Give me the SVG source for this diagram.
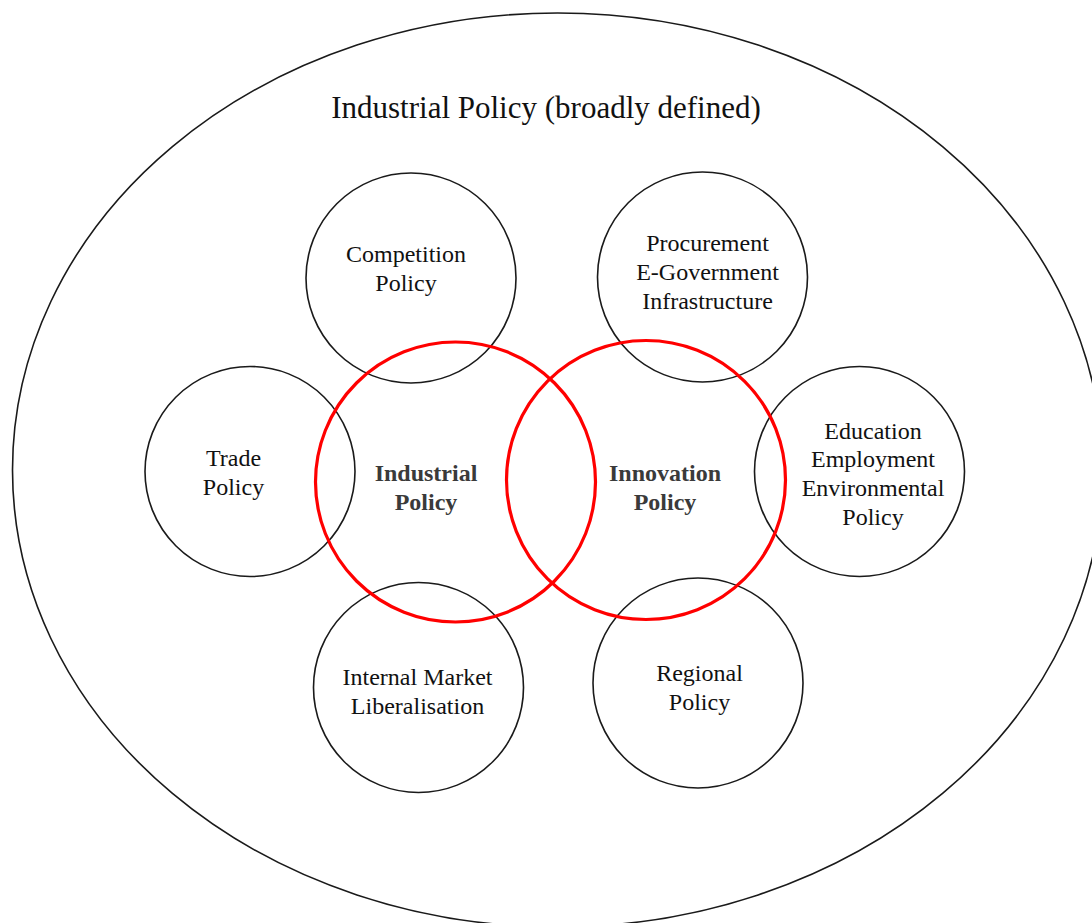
<svg xmlns="http://www.w3.org/2000/svg" width="1092" height="923" viewBox="0 0 1092 923">
<style>
.bg{fill:#ffffff}
.outer{fill:none;stroke:#1a1a1a;stroke-width:1.6}
.node{fill:none;stroke:#1a1a1a;stroke-width:1.6}
.core{fill:none;stroke:#ff0000;stroke-width:3.2}
.lbl{font-family:"Liberation Serif","Times New Roman",serif;font-size:24px;fill:#111111;text-anchor:middle}
.bold{font-family:"Liberation Serif","Times New Roman",serif;font-size:24px;font-weight:bold;fill:#3a3a3a;text-anchor:middle}
.title{font-family:"Liberation Serif","Times New Roman",serif;font-size:31px;fill:#111111;text-anchor:middle}
</style>
<rect class="bg" x="0" y="0" width="1092" height="923"/>
<g id="outer">
<ellipse class="outer" cx="557.5" cy="470" rx="545" ry="457"/>
<text class="title" x="546" y="118">Industrial Policy (broadly defined)</text>
</g>
<g id="connectors"></g>
<g id="competition">
<circle class="node" cx="411" cy="278" r="105"/>
<text class="lbl" x="406" y="262">Competition</text>
<text class="lbl" x="406" y="291">Policy</text>
</g>
<g id="procurement">
<circle class="node" cx="702.5" cy="277" r="105"/>
<text class="lbl" x="707.5" y="251">Procurement</text>
<text class="lbl" x="707.5" y="280">E-Government</text>
<text class="lbl" x="707.5" y="309">Infrastructure</text>
</g>
<g id="trade">
<circle class="node" cx="250" cy="471.5" r="105"/>
<text class="lbl" x="233.5" y="466">Trade</text>
<text class="lbl" x="233.5" y="495">Policy</text>
</g>
<g id="education">
<circle class="node" cx="859.5" cy="471.5" r="105"/>
<text class="lbl" x="873" y="438.5">Education</text>
<text class="lbl" x="873" y="467">Employment</text>
<text class="lbl" x="873" y="496">Environmental</text>
<text class="lbl" x="873" y="525">Policy</text>
</g>
<g id="internal-market">
<circle class="node" cx="418.5" cy="687.5" r="105"/>
<text class="lbl" x="417.5" y="684.5">Internal Market</text>
<text class="lbl" x="417.5" y="713.5">Liberalisation</text>
</g>
<g id="regional">
<circle class="node" cx="698" cy="683" r="105"/>
<text class="lbl" x="699.5" y="681">Regional</text>
<text class="lbl" x="699.5" y="710">Policy</text>
</g>
<g id="industrial-policy">
<circle class="core" cx="455.5" cy="482" r="140"/>
<text class="bold" x="426" y="481">Industrial</text>
<text class="bold" x="426" y="510">Policy</text>
</g>
<g id="innovation-policy">
<circle class="core" cx="646" cy="480" r="139.5"/>
<text class="bold" x="665" y="481">Innovation</text>
<text class="bold" x="665" y="510">Policy</text>
</g>
</svg>
